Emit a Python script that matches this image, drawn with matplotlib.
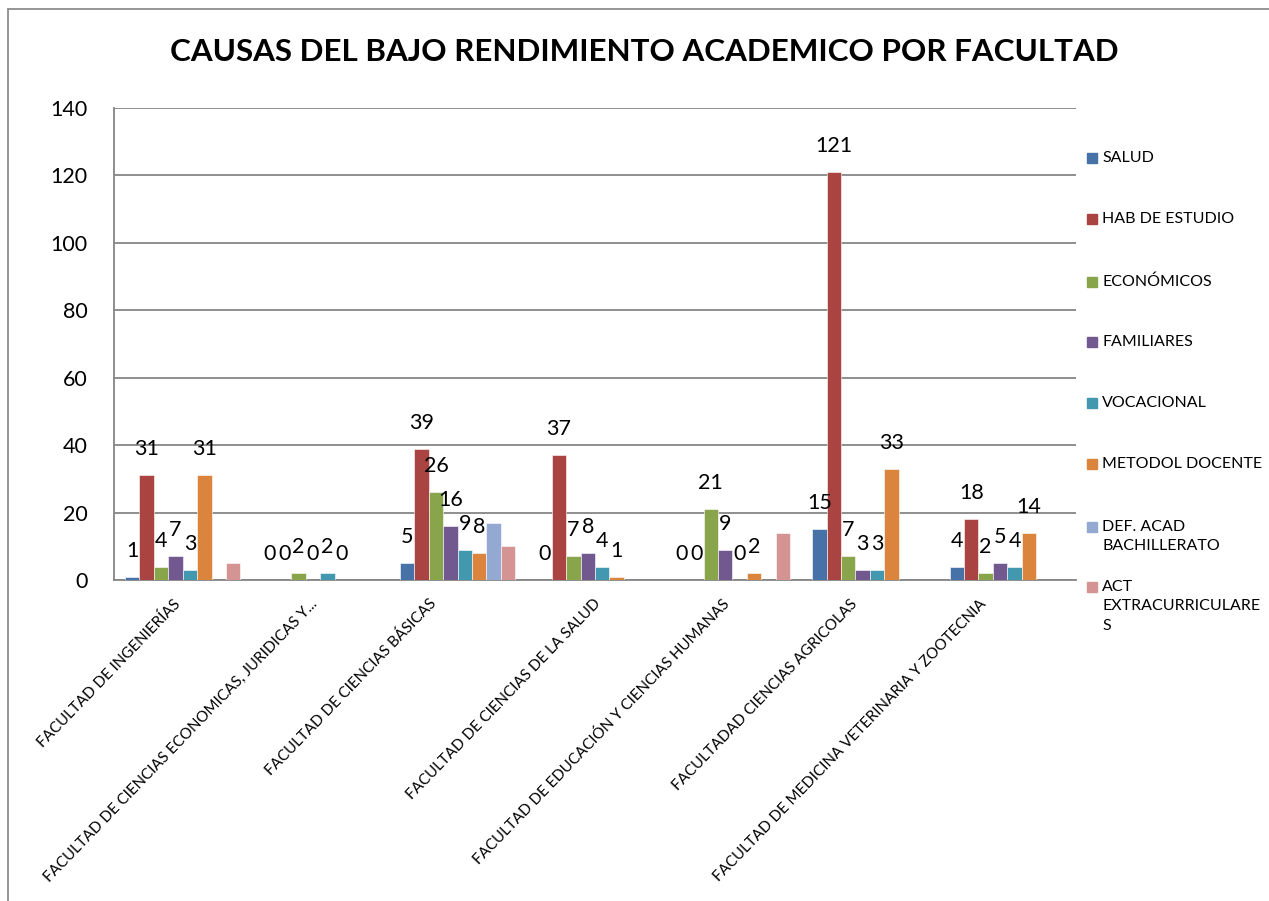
import numpy as np
import matplotlib
matplotlib.use('Agg')
import matplotlib.pyplot as plt
from matplotlib.patches import Rectangle
from matplotlib.transforms import ScaledTranslation

plt.rcParams['font.family'] = ['Lato', 'DejaVu Sans']

# Datos
facultades = ['FACULTAD DE INGENIERÍAS',
              'FACULTAD DE CIENCIAS ECONOMICAS, JURIDICAS Y...',
              'FACULTAD DE CIENCIAS BÁSICAS',
              'FACULTAD DE CIENCIAS DE LA SALUD',
              'FACULTAD DE EDUCACIÓN Y CIENCIAS HUMANAS',
              'FACULTADAD CIENCIAS AGRICOLAS',
              'FACULTAD DE MEDICINA VETERINARIA Y ZOOTECNIA']
causas = ['SALUD', 'HAB DE ESTUDIO', 'ECONÓMICOS', 'FAMILIARES', 'VOCACIONAL',
          'METODOL DOCENTE', 'DEF. ACAD\nBACHILLERATO', 'ACT\nEXTRACURRICULARE\nS']
salud = [1, 0, 5, 0, 0, 15, 4]
hab_estudio = [31, 0, 39, 37, 0, 121, 18]
economicos = [4, 2, 26, 7, 21, 7, 2]
familiares = [7, 0, 16, 8, 9, 3, 5]
vocacional = [3, 2, 9, 4, 0, 3, 4]
metodol_docente = [31, 0, 8, 1, 2, 33, 14]
def_acad = [0, 0, 17, 0, 0, 0, 0]
act_extra = [5, 0, 10, 0, 14, 0, 0]
series = [salud, hab_estudio, economicos, familiares, vocacional,
          metodol_docente, def_acad, act_extra]
con_etiqueta = [True, True, True, True, True, True, False, False]
colores = ['#4672A8', '#A94442', '#88A54C', '#71588F', '#4198AF', '#DB843D',
           '#94A9D1', '#D39493']

W, H = 1269, 901
fig = plt.figure(figsize=(W / 100, H / 100), dpi=100)
ax = fig.add_axes([114 / W, 1 - 580 / H, (1076 - 114) / W, (580 - 108) / H])

x = np.arange(len(facultades))
ancho = 0.105
for i, (vals, col) in enumerate(zip(series, colores)):
    pos = x - 4 * ancho + (i + 0.5) * ancho
    bars = ax.bar(pos, vals, ancho, color=col, edgecolor='white', linewidth=0.4, zorder=3)
    if con_etiqueta[i]:
        for b, v in zip(bars, vals):
            ax.annotate(str(v), (b.get_x() + b.get_width() / 2, v),
                        xytext=(0, 26), textcoords='offset pixels',
                        ha='center', va='center', fontsize=15.5, zorder=4)

ax.set_xlim(-0.5, len(facultades) - 0.5)
ax.set_ylim(0, 140)
ax.set_yticks(np.arange(0, 141, 20))
ax.yaxis.grid(True, color='#868686', linewidth=1.3, zorder=0)
ax.tick_params(axis='y', length=0, pad=19, labelsize=15.5)
ax.tick_params(axis='x', length=0, pad=15.5)
ax.set_xticks(x)
ax.set_xticklabels(facultades, rotation=46, ha='right', va='center',
                   rotation_mode='anchor', fontsize=10.9)
# desplazamiento horizontal de las etiquetas como en Excel (px)
despl = [-5, -5, -24, 3, -5, -15, -23]
for lab, d in zip(ax.get_xticklabels(), despl):
    lab.set_transform(lab.get_transform() + ScaledTranslation(d / 100, 0, fig.dpi_scale_trans))
for s in ['top', 'right']:
    ax.spines[s].set_visible(False)
for s in ['left', 'bottom']:
    ax.spines[s].set_color('#868686')
    ax.spines[s].set_linewidth(1.3)

fig.text(644 / W, 1 - 52 / H, 'CAUSAS DEL BAJO RENDIMIENTO ACADEMICO POR FACULTAD',
         ha='center', va='center', fontsize=22.6, fontweight='bold')

# leyenda manual
ley_y = [158, 219, 282, 342, 403, 464, 527, 587]
for lab, col, yy in zip(causas, colores, ley_y):
    fig.add_artist(Rectangle((1087 / W, 1 - (yy + 5) / H), 10 / W, 10 / H,
                             transform=fig.transFigure, color=col))
    fig.text(1102 / W, 1 - (yy - 7) / H, lab, ha='left', va='top',
             fontsize=11.5, linespacing=1.5)

# borde del gráfico
fig.add_artist(Rectangle((8 / W, -0.1), 1.2, 1 - 9 / H + 0.1, transform=fig.transFigure,
                         fill=False, edgecolor='#8c8c8c', linewidth=1.3))

fig.savefig('out.png', dpi=100)
